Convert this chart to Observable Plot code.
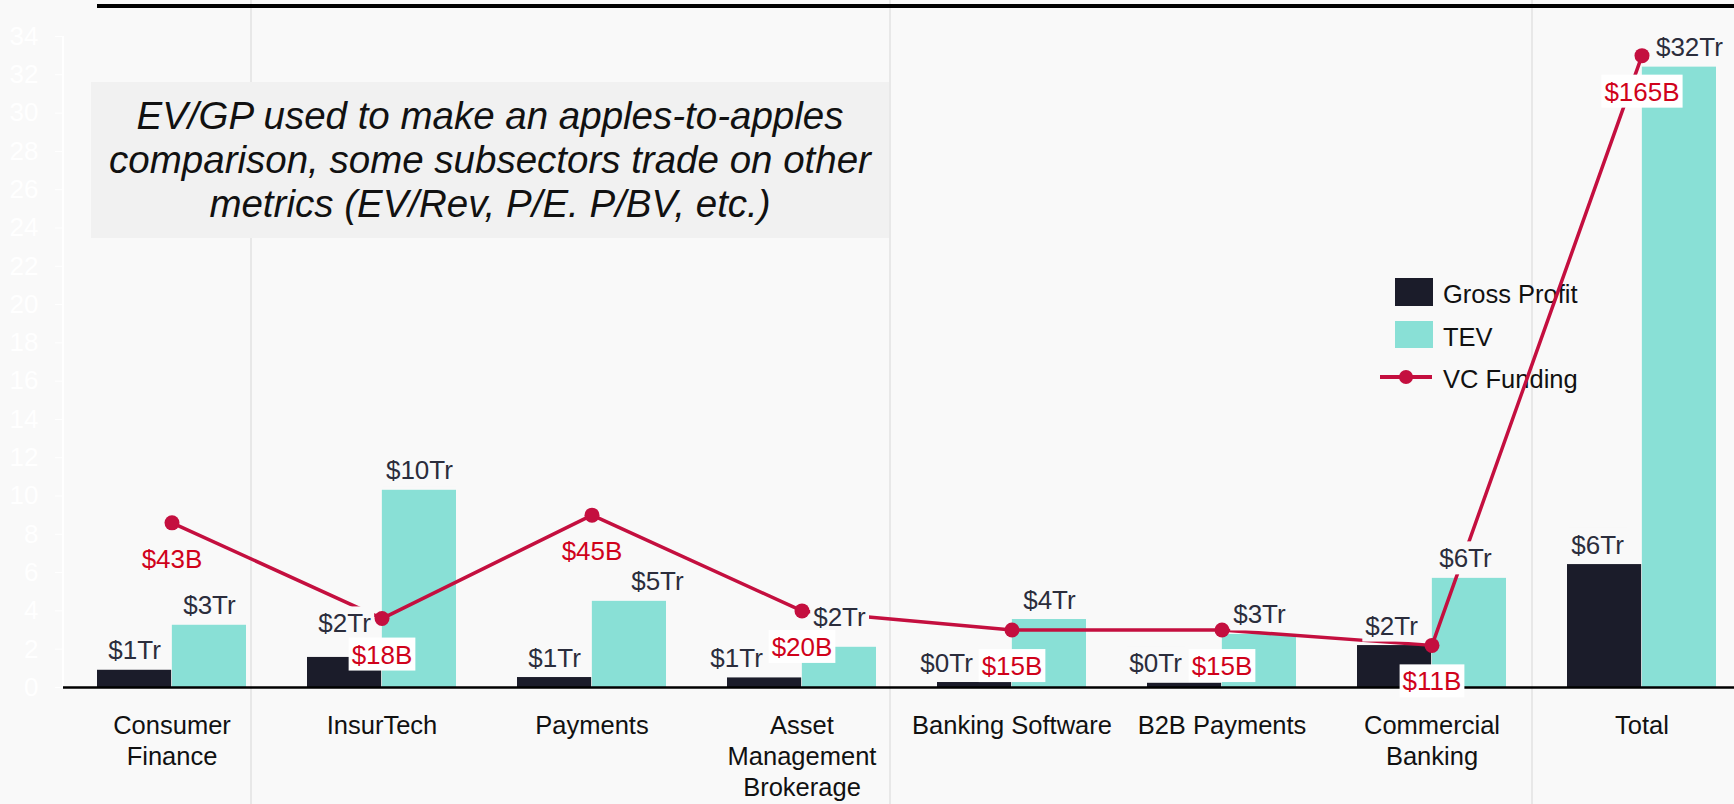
<!DOCTYPE html>
<html>
<head>
<meta charset="utf-8">
<script src="https://cdn.jsdelivr.net/npm/d3@7"></script>
<script src="https://cdn.jsdelivr.net/npm/@observablehq/plot@0.6"></script>
<style>
  html, body { margin: 0; padding: 0; overflow: hidden; background: #f9f9f9; }
  #wrap { position: relative; width: 1734px; height: 804px; overflow: hidden; font-family: "Liberation Sans", Arial, sans-serif; }
  .grid { position: absolute; top: 0; height: 804px; width: 2px; background: #e8e8e8; }
  #yline { position: absolute; left: 62px; top: 36px; height: 651px; width: 2px; background: #ffffff; }
  #topline { position: absolute; left: 97px; right: 0; top: 4px; height: 4px; background: #000; }
  #note { position: absolute; left: 91px; top: 82px; width: 798px; height: 156px; background: #f1f1f1;
          display: flex; align-items: center; justify-content: center; text-align: center;
          font-style: italic; font-size: 38.5px; line-height: 44px; color: #111; white-space: nowrap; }
  #legend { position: absolute; left: 1370px; top: 270px; font-family: "Liberation Sans", Arial, sans-serif; }
  #chart { position: absolute; left: 0; top: 0; }
</style>
</head>
<body>
<div id="wrap">
  <div class="grid" style="left:250px"></div>
  <div class="grid" style="left:889px"></div>
  <div class="grid" style="left:1531px"></div>
  <div id="yline"></div>
  <svg id="legend" width="260" height="130">
    <rect x="25" y="8" width="38" height="28" fill="#1b1c2a"></rect>
    <text x="73" y="33" font-size="25.5" fill="#111">Gross Profit</text>
    <rect x="25" y="51" width="38" height="27" fill="#89e0d6"></rect>
    <text x="73" y="76" font-size="25.5" fill="#111">TEV</text>
    <line x1="10" x2="62" y1="107" y2="107" stroke="#c40f3f" stroke-width="4"></line>
    <circle cx="36" cy="107" r="7" fill="#c40f3f"></circle>
    <text x="73" y="118" font-size="25.5" fill="#111">VC Funding</text>
  </svg>
  <div id="chart"></div>
  <div id="note">EV/GP used to make an apples-to-apples<br>comparison, some subsectors trade on other<br>metrics (EV/Rev, P/E. P/BV, etc.)</div>
  <div id="topline"></div>
</div>
<script>
// ---- data ----
const categories = ["Consumer Finance", "InsurTech", "Payments", "Asset Management Brokerage",
                    "Banking Software", "B2B Payments", "Commercial Banking", "Total"];
const categoryLabels = ["Consumer\nFinance", "InsurTech", "Payments", "Asset\nManagement\nBrokerage",
                        "Banking Software", "B2B Payments", "Commercial\nBanking", "Total"];
const grossProfit = [0.9, 1.57, 0.52, 0.5, 0.26, 0.22, 2.19, 6.42];   // $Tr
const tev = [3.25, 10.3, 4.5, 2.1, 3.55, 2.77, 5.7, 32.4];            // $Tr
const vcFunding = [43, 18, 45, 20, 15, 15, 11, 165];                   // $B
const yTicks = [0, 2, 4, 6, 8, 10, 12, 14, 16, 18, 20, 22, 24, 26, 28, 30, 32, 34];

// ---- layout (label nudges in px, not data) ----
const gpNudge = {"InsurTech": [0, -14], "Asset Management Brokerage": [-28, 0], "Banking Software": [-28, 0],
                 "B2B Payments": [-29, 0], "Commercial Banking": [-3, 0], "Total": [-7, 0]};
const tevNudge = {"Payments": [28, 0], "Asset Management Brokerage": [0, -10], "Commercial Banking": [-4, 0], "Total": [10, 0]};

const rows = categories.map((c, i) => ({cat: c, label: categoryLabels[i], gp: grossProfit[i], tev: tev[i], vc: vcFunding[i]}));

const W = 1750, H = 804, ML = 63, MR = 0, MT = 36, MB = 117;
const PI = 0.29;
const step = (W - ML - MR) / categories.length;
const half = step * (1 - PI) / 2;
const FS = 26;
const vcScale = 5; // secondary axis: $B per unit of the primary axis

const trFmt = v => `$${Math.round(v)}Tr`;

const labelMarks = [];
rows.forEach(d => {
  const g = gpNudge[d.cat] || [0, 0];
  const t = tevNudge[d.cat] || [0, 0];
  labelMarks.push(Plot.text([d], {x: "cat", y: "gp", text: r => trFmt(r.gp), dx: -half / 2 + g[0], dy: -11 + g[1],
    lineAnchor: "bottom", fontSize: FS, fill: "#2b2d3c", ariaDescription: "tr-label"}));
  labelMarks.push(Plot.text([d], {x: "cat", y: "tev", text: r => trFmt(r.tev), dx: half / 2 + t[0], dy: -11 + t[1],
    lineAnchor: "bottom", fontSize: FS, fill: "#2b2d3c", ariaDescription: "tr-label"}));
});

const chart = Plot.plot({
  width: W, height: H,
  marginLeft: ML, marginRight: MR, marginTop: MT, marginBottom: MB,
  style: {background: "transparent", color: "#ffffff", maxWidth: "none",
          fontFamily: "Liberation Sans, Arial, sans-serif", fontSize: FS + "px", overflow: "visible"},
  x: {domain: categories, axis: null, paddingInner: PI, paddingOuter: PI / 2},
  y: {domain: [0, 34], ticks: yTicks, tickSize: 8, tickPadding: 17, line: false, label: null, tickFormat: d => String(d)},
  marks: [
    Plot.barY(rows, {x: "cat", y: "tev", fill: "#89e0d6", insetLeft: half}),
    Plot.barY(rows, {x: "cat", y: "gp", fill: "#1b1c2a", insetRight: half}),
    Plot.ruleY([0], {stroke: "#000", strokeWidth: 2.5}),
    Plot.line(rows, {x: "cat", y: d => d.vc / vcScale, stroke: "#c40f3f", strokeWidth: 3.5}),
    Plot.dot(rows, {x: "cat", y: d => d.vc / vcScale, r: 7.5, fill: "#c40f3f"}),
    ...labelMarks,
    Plot.text(rows, {x: "cat", y: d => d.vc / vcScale, text: d => `$${d.vc}B`, dy: 45, lineAnchor: "bottom",
      fontSize: FS, fill: "#d0021b", ariaDescription: "vc-label"}),
    Plot.text(rows, {x: "cat", text: "label", frameAnchor: "bottom", dy: 24, lineAnchor: "top", lineHeight: 1.23,
      fontSize: 25.5, fill: "#111"})
  ]
});

document.getElementById("chart").appendChild(chart);

// label background boxes
const NS = "http://www.w3.org/2000/svg";
const barBoxes = [...chart.querySelectorAll('g[aria-label="bar"] rect')].map(r => r.getBoundingClientRect());
function addBoxes(desc, fill, onlyOverBars) {
  chart.querySelectorAll(`g[aria-description="${desc}"] text`).forEach(t => {
    if (onlyOverBars) {
      const r = t.getBoundingClientRect();
      const hit = barBoxes.some(q => r.left < q.right && r.right > q.left && r.top + 6 < q.bottom && r.bottom > q.top + 6);
      if (!hit) return;
    }
    const b = t.getBBox();
    const rect = document.createElementNS(NS, "rect");
    rect.setAttribute("x", b.x - 3);
    rect.setAttribute("y", b.y - 2);
    rect.setAttribute("width", b.width + 6);
    rect.setAttribute("height", b.height + 3);
    rect.setAttribute("fill", fill);
    rect.setAttribute("stroke", "none");
    const tr = t.getAttribute("transform");
    if (tr) rect.setAttribute("transform", tr);
    t.parentNode.insertBefore(rect, t);
  });
}
addBoxes("tr-label", "#f9f9f9", false);
addBoxes("vc-label", "#ffffff", true);
</script>
</body>
</html>
